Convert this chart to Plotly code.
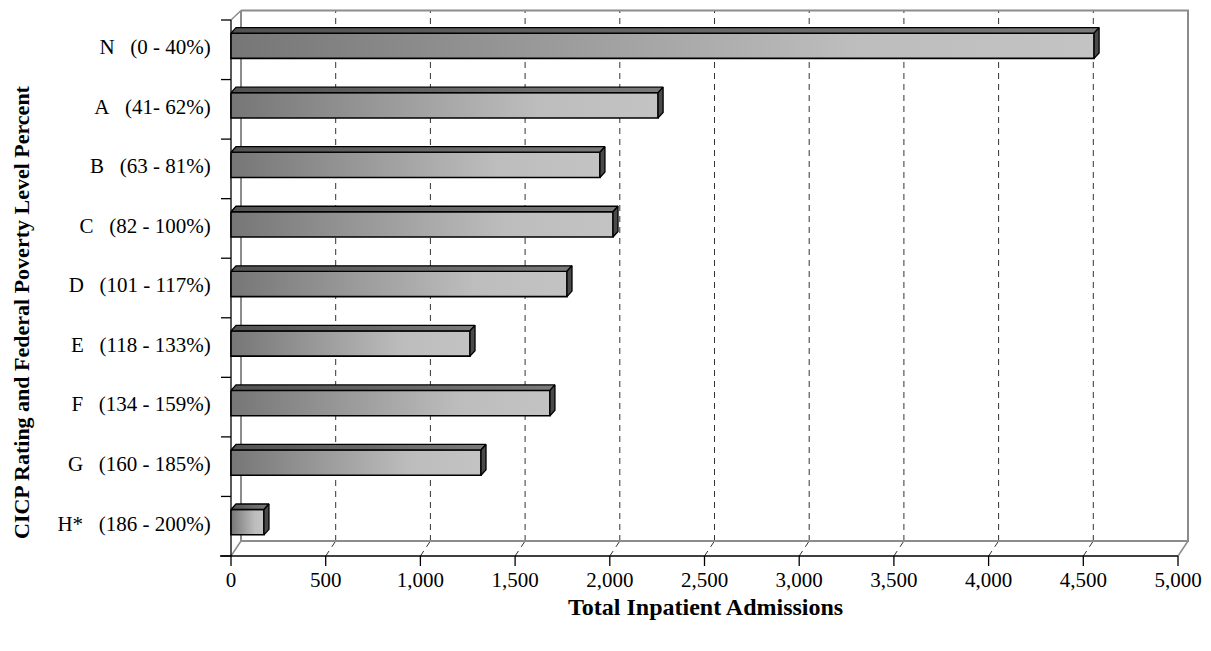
import plotly.graph_objects as go

# ---------------- data ----------------
categories = ["N  (0 - 40%)", "A  (41- 62%)", "B  (63 - 81%)", "C  (82 - 100%)",
              "D  (101 - 117%)", "E  (118 - 133%)", "F  (134 - 159%)",
              "G  (160 - 185%)", "H*  (186 - 200%)"]
admissions = [4557, 2255, 1948, 2017, 1774, 1262, 1684, 1320, 174]
x_ticks = [0, 500, 1000, 1500, 2000, 2500, 3000, 3500, 4000, 4500, 5000]
x_tick_labels = ["0", "500", "1,000", "1,500", "2,000", "2,500", "3,000",
                 "3,500", "4,000", "4,500", "5,000"]
x_title = "Total Inpatient Admissions"
y_title = "CICP Rating and Federal Poverty Level Percent"

# ---------------- geometry (window pixels) ----------------
W, H = 1211, 651
OFF = 8                         # page body margin
X0PX, X1PX = 231, 1178          # front axis: 0 and 5000
YTOP, YBOT = 20, 556            # front category axis top / bottom
PL, PR, PT, PB = 220, 1192, 9, 558   # plot area in window pixels
XMAX = x_ticks[-1]
n = len(categories)
pxu = (X1PX - X0PX) / XMAX
pyu = (YBOT - YTOP) / n
def ux(px): return (px - X0PX) / pxu
def uy(py): return (py - YTOP) / pyu - 0.5
def px_of(x): return X0PX + x * pxu
def paper_x(px): return (px - PL) / (PR - PL)
def paper_y(py): return (PB - py) / (PB - PT)
DX = 10 / pxu
DY = 15 / pyu
BDX = 5 / pxu
BDY = 5.5 / pyu
F_TOP, F_BOT = -16.7 / pyu, 8.6 / pyu

font_fam = "Liberation Serif, Times New Roman, serif"
fig = go.Figure()

def line(xs, ys, color, width=1.0, dash=None):
    fig.add_trace(go.Scatter(x=xs, y=ys, mode="lines", hoverinfo="skip",
                             line=dict(color=color, width=width, dash=dash),
                             showlegend=False))

ybot, ytop = n - 0.5, -0.5
yback_top = uy(PT + 1.5)
gray = "#8c8c8c"
for t in x_ticks[1:-1]:
    line([t + DX, t + DX], [ybot - DY, yback_top], "#333333", 1, "6px,5px")
    line([t, t + DX], [ybot, ybot - DY], "#333333", 1, "6px,5px")
line([DX, XMAX + DX, XMAX + DX, DX, DX],
     [yback_top, yback_top, ybot - DY, ybot - DY, yback_top], gray, 2)
line([0, DX], [ytop, yback_top], gray, 1.5)
line([0, DX], [ybot, ybot - DY], gray, 1.5)
line([XMAX, XMAX + DX], [ybot, ybot - DY], gray, 1.5)
line([0, 0], [ytop, ybot], "black", 1.3)
line([ux(X0PX - 11), XMAX], [ybot, ybot], "black", 1.3)
for k in range(n + 1):
    yy = -0.5 + k
    line([ux(X0PX - 10), 0], [yy, yy], "black", 1.3)

# x-axis tick marks below the front axis (paper-referenced, not clipped)
shapes = []
for t in x_ticks:
    shapes.append(dict(type="line", xref="paper", yref="paper",
                       x0=paper_x(px_of(t)), x1=paper_x(px_of(t)),
                       y0=paper_y(YBOT), y1=paper_y(YBOT + 10),
                       line=dict(color="black", width=1.3)))

for i, v in enumerate(admissions):
    yt, yb = i + F_TOP, i + F_BOT
    fig.add_trace(go.Scatter(
        x=[0, v, v, 0, 0], y=[yt, yt, yb, yb, yt], mode="lines", fill="toself",
        fillgradient=dict(type="horizontal",
                          colorscale=[[0, "#767676"], [0.72, "#bdbdbd"], [1, "#c3c3c3"]]),
        line=dict(color="black", width=1.6), hoverinfo="skip", showlegend=False))
    fig.add_trace(go.Scatter(
        x=[0, v, v + BDX, BDX, 0], y=[yt, yt, yt - BDY, yt - BDY, yt], mode="lines",
        fill="toself",
        fillgradient=dict(type="horizontal",
                          colorscale=[[0, "#525252"], [1, "#7a7a7a"]]),
        line=dict(color="black", width=1.3), hoverinfo="skip", showlegend=False))
    fig.add_trace(go.Scatter(
        x=[v, v + BDX, v + BDX, v, v], y=[yt, yt - BDY, yb - BDY, yb, yt], mode="lines",
        fill="toself", fillcolor="#4a4a4a",
        line=dict(color="black", width=1.3), hoverinfo="skip", showlegend=False))

nb = "\u00a0"
fig.update_layout(
    width=W - OFF, height=H - OFF, paper_bgcolor="white", plot_bgcolor="white",
    margin=dict(l=PL - OFF, r=W - PR, t=PT - OFF, b=H - PB, pad=0),
    font=dict(family=font_fam, size=21, color="black"),
    xaxis=dict(range=[ux(PL), ux(PR)], showgrid=False, zeroline=False, showline=False,
               tickmode="array", tickvals=x_ticks, ticktext=x_tick_labels,
               ticks="outside", ticklen=3, tickcolor="rgba(0,0,0,0)", fixedrange=True),
    yaxis=dict(range=[uy(PB), uy(PT)], showgrid=False, zeroline=False, showline=False,
               tickmode="array", tickvals=[i - 0.05 for i in range(n)],
               ticktext=[c.replace("  ", nb * 3) for c in categories],
               ticks="outside", ticklen=4, tickcolor="rgba(0,0,0,0)", fixedrange=True),
    shapes=shapes,
    annotations=[
        dict(text="<b>" + x_title + "</b>", xref="paper", yref="paper",
             x=paper_x(705), y=paper_y(607),
             showarrow=False, font=dict(size=24, family=font_fam),
             xanchor="center", yanchor="middle"),
        dict(text="<b>" + y_title + "</b>", xref="paper", yref="paper",
             x=paper_x(22), y=paper_y(312),
             showarrow=False, textangle=-90, font=dict(size=22, family=font_fam),
             xanchor="center", yanchor="middle"),
    ],
)
fig.write_html("out.html")
